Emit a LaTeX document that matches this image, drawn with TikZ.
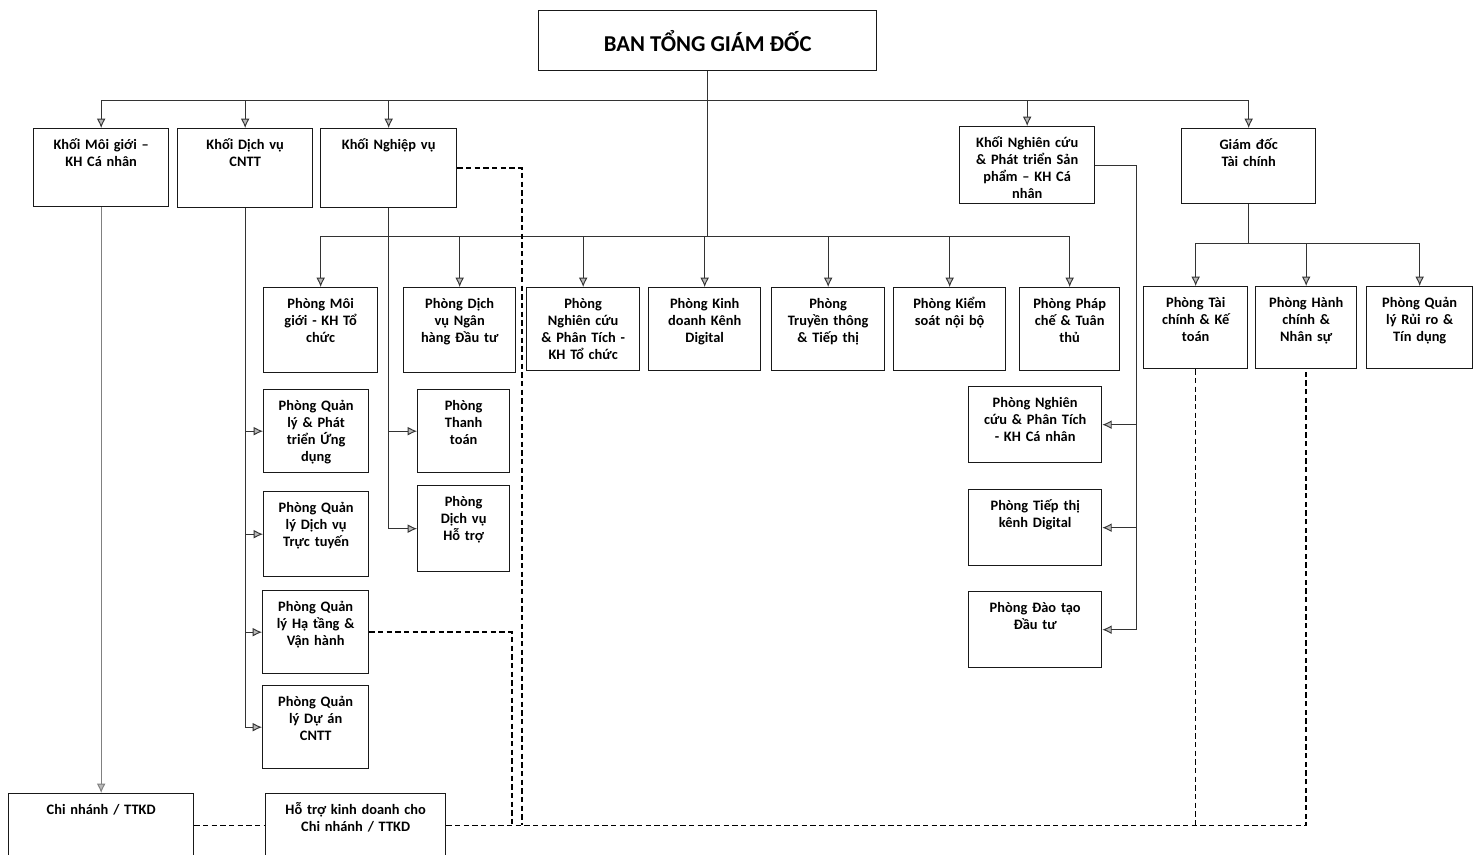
\documentclass[tikz,border=0pt]{standalone}
\usepackage{fontspec}
\setmainfont{Carlito}
\usetikzlibrary{arrows.meta}
\newcommand*\boxfont{\fontsize{10.8}{12.75}\selectfont\bfseries}
\newcommand*\toppad{15.5pt}
\tikzset{
    dept/.style 2 args = {draw=black!90, line width=1pt, inner sep=0pt,
                    anchor=north west, align=center, font=\boxfont,
                    text width={#1*0.75pt}, text height=\toppad,
                    text depth={#2*0.75pt-\toppad}},
    headbox/.style   = {draw=black!90, line width=1pt, anchor=north west,
                    minimum width=253.5pt, minimum height=45pt,
                    font=\fontsize{17}{20}\selectfont\bfseries},
    linkline/.style  = {draw=black!80, line width=0.7pt},
    arrowline/.style = {linkline, -{Latex[length=7pt,width=6.5pt,fill=gray!55]}},
    faintarrow/.style= {arrowline, draw=black!50},
    dashline/.style  = {draw=black, line width=1.1pt, dash pattern=on 4pt off 2.5pt},
  }
\begin{document}
\begin{tikzpicture}[x=0.75pt, y=-0.75pt]
        \clip (0,0) rectangle (1483,854);

        % top box
        \node[headbox] (btgd) at (538,10) {BAN TỔNG GIÁM ĐỐC};

        % row 1: khoi
        \node[dept={135}{78}] (kmg)  at (33,128)   {Khối Môi giới –\\KH Cá nhân};
        \node[dept={135}{79}] (kdv)  at (177,128)  {Khối Dịch vụ\\CNTT};
        \node[dept={136}{79}] (knv)  at (320,128)  {Khối Nghiệp vụ};
        \node[dept={135}{77}] (knc)  at (959,126)  {Khối Nghiên cứu\\\& Phát triển Sản\\phẩm – KH Cá\\nhân};
        \node[dept={134}{75}] (gdtc) at (1181,128) {Giám đốc\\Tài chính};

        % row 2: phong
        \node[dept={114}{85}] (pmg)   at (263,287)  {Phòng Môi\\giới - KH Tổ\\chức};
        \node[dept={112}{85}] (pdvnh) at (403,287)  {Phòng Dịch\\vụ Ngân\\hàng Đầu tư};
        \node[dept={113}{83}] (pnc)   at (526,287)  {Phòng\\Nghiên cứu\\\& Phân Tích -\\KH Tổ chức};
        \node[dept={112}{83}] (pkd)   at (648,287)  {Phòng Kinh\\doanh Kênh\\Digital};
        \node[dept={113}{83}] (ptt)   at (771,287)  {Phòng\\Truyền thông\\\& Tiếp thị};
        \node[dept={112}{83}] (pks)   at (893,287)  {Phòng Kiểm\\soát nội bộ};
        \node[dept={100}{83}] (ppc)   at (1019,287) {Phòng Pháp\\chế \& Tuân\\thủ};
        \node[dept={104}{82}] (ptc)   at (1143,286) {Phòng Tài\\chính \& Kế\\toán};
        \node[dept={101}{82}] (phc)   at (1255,286) {Phòng Hành\\chính \&\\Nhân sự};
        \node[dept={106}{82}] (pqr)   at (1366,286) {Phòng Quản\\lý Rủi ro \&\\Tín dụng};

        % under Khoi Dich vu CNTT
        \node[dept={105}{83}] (pud) at (263,389) {Phòng Quản\\lý \& Phát\\triển Ứng\\dụng};
        \node[dept={105}{85}] (pdv) at (263,491) {Phòng Quản\\lý Dịch vụ\\Trực tuyến};
        \node[dept={106}{83}] (pht) at (262,590) {Phòng Quản\\lý Hạ tầng \&\\Vận hành};
        \node[dept={106}{83}] (pda) at (262,685) {Phòng Quản\\lý Dự án\\CNTT};

        % under Khoi Nghiep vu
        \node[dept={92}{83}] (ptoan) at (417,389) {Phòng\\Thanh\\toán};
        \node[dept={92}{86}] (phtro) at (417,485) {Phòng\\Dịch vụ\\Hỗ trợ};

        % under Khoi Nghien cuu
        \node[dept={133}{76}] (pnccn) at (968,386) {Phòng Nghiên\\cứu \& Phân Tích\\- KH Cá nhân};
        \node[dept={133}{76}] (ptdd)  at (968,489) {Phòng Tiếp thị\\kênh Digital};
        \node[dept={133}{76}] (pdtdt) at (968,591) {Phòng Đào tạo\\Đầu tư};

        % bottom row
        \node[dept={185}{64}] (cn)   at (8,793)   {Chi nhánh / TTKD};
        \node[dept={180}{64}] (htkd) at (265,793) {Hỗ trợ kinh doanh cho\\Chi nhánh / TTKD};

        % buses
        \coordinate (bus1) at (707,100);
        \coordinate (bus2) at (707,236);
        \coordinate (bus3) at (1248,243);
        \coordinate (ncbend) at (1136,164);
        \coordinate (joinA) at (512,825);
        \coordinate (joinB) at (522,825);

        \draw[linkline] (btgd.south) -- (btgd.south |- bus2) -- (bus2);
        \foreach \n in {kmg,kdv,knv,knc,gdtc}
            \draw[arrowline] (bus1) -| (\n.north);
        \foreach \n in {pmg,pdvnh,pnc,pkd,ptt,pks,ppc}
            \draw[arrowline] (bus2) -| (\n.north);

        \draw[linkline] (gdtc.south) -- (gdtc.south |- bus3) -- (bus3);
        \foreach \n in {ptc,phc,pqr}
            \draw[arrowline] (bus3) -| (\n.north);

        \foreach \n in {pud,pdv,pht,pda}
            \draw[arrowline] (kdv.south) |- (\n.west);
        \foreach \n in {ptoan,phtro}
            \draw[arrowline] (knv.south) |- (\n.west);
        \foreach \n in {pnccn,ptdd,pdtdt}
            \draw[arrowline] (knc.east) -- (knc.east -| ncbend) |- (\n.east);

        \draw[faintarrow] (kmg.south) -- (cn.north);

        % dashed links to the branches
        \draw[dashline] (cn.east) -- (htkd.west);
        \draw[dashline] (htkd.east) -| (phc.south);
        \draw[dashline] (ptc.south) -- (ptc.south |- htkd.east);
        \draw[dashline] (knv.east) -| (joinB);
        \draw[dashline] (pht.east) -| (joinA);
    \end{tikzpicture}
\end{document}
